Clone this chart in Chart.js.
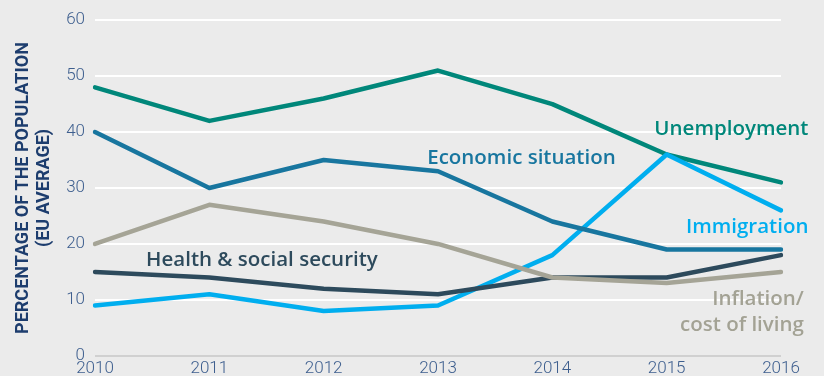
<!DOCTYPE html>
<html>
<head>
<meta charset="utf-8">
<script src="https://cdn.jsdelivr.net/npm/chart.js@4.4.0/dist/chart.umd.min.js"></script>
<style>
  html, body { margin: 0; padding: 0; background: #ebebeb; }
  #wrap { width: 824px; height: 376px; }
</style>
</head>
<body>
<div id="wrap"><canvas id="myChart" width="824" height="376"></canvas></div>
<script>
// Data
const years = ['2010', '2011', '2012', '2013', '2014', '2015', '2016'];
const unemployment = [48, 42, 46, 51, 45, 36, 31];
const economicSituation = [40, 30, 35, 33, 24, 19, 19];
const immigration = [9, 11, 8, 9, 18, 36, 26];
const healthSocial = [15, 14, 12, 11, 14, 14, 18];
const inflation = [20, 27, 24, 20, 14, 13, 15];
const yTicks = [0, 10, 20, 30, 40, 50, 60];

// Inline series labels: anchor in (category index, value) space
const seriesLabels = [
    { text: ['Unemployment'], x: 6.24, y: 40.5, align: 'right', color: '#00877a' },
    { text: ['Economic situation'], x: 3.73, y: 35.4, align: 'center', color: '#18769f' },
    { text: ['Immigration'], x: 6.24, y: 23, align: 'right', color: '#00aeef' },
    { text: ['Health & social security'], x: 1.46, y: 17.1, align: 'center', color: '#2d4a5c' },
    { text: ['Inflation/', 'cost of living'], x: 6.2, y: 10.2, align: 'right', color: '#a3a294' }
];

// Paint canvas background
const bgPlugin = {
    id: 'bg',
    beforeDraw(chart) {
        const c = chart.ctx;
        c.save();
        c.fillStyle = '#ebebeb';
        c.fillRect(0, 0, chart.width, chart.height);
        c.restore();
    }
};

// Draw the series names inside the plot
const labelPlugin = {
    id: 'seriesLabels',
    afterDatasetsDraw(chart) {
        const c = chart.ctx;
        const xs = chart.scales.x, ys = chart.scales.y;
        const step = xs.getPixelForValue(1) - xs.getPixelForValue(0);
        c.save();
        c.font = '600 20.5px "Open Sans"';
        c.textBaseline = 'middle';
        seriesLabels.forEach(l => {
            const px = xs.getPixelForValue(0) + l.x * step;
            const py = ys.getPixelForValue(l.y);
            c.fillStyle = l.color;
            c.textAlign = l.align;
            l.text.forEach((t, i) => c.fillText(t, px, py + i * 26));
        });
        c.restore();
    }
};

const ctx = document.getElementById('myChart').getContext('2d');
const lineDefaults = { borderWidth: 4.5, pointRadius: 0, tension: 0, borderCapStyle: 'round', borderJoinStyle: 'round', fill: false };
const tickFont = { family: 'Roboto', size: 17, weight: '300' };
const chart = new Chart(ctx, {
    type: 'line',
    data: {
        labels: years,
        datasets: [
            { label: 'Inflation/cost of living', data: inflation, borderColor: '#a5a496', ...lineDefaults },
            { label: 'Health & social security', data: healthSocial, borderColor: '#2d4a5c', ...lineDefaults },
            { label: 'Economic situation', data: economicSituation, borderColor: '#18769f', ...lineDefaults },
            { label: 'Immigration', data: immigration, borderColor: '#00aeef', ...lineDefaults },
            { label: 'Unemployment', data: unemployment, borderColor: '#00877a', ...lineDefaults }
        ]
    },
    options: {
        responsive: false,
        animation: false,
        layout: { padding: { top: 20, right: 43, left: 0, bottom: 0 } },
        plugins: { legend: { display: false }, tooltip: { enabled: false } },
        scales: {
            x: {
                offset: false,
                grid: { display: false, drawTicks: false },
                border: { display: false },
                ticks: { color: '#3d5e8e', font: tickFont, padding: 3, maxRotation: 0, autoSkip: false },
                afterFit(axis) { axis.height = 20; }
            },
            y: {
                min: 0,
                max: 60,
                afterBuildTicks(axis) { axis.ticks = yTicks.map(v => ({ value: v })); },
                grid: {
                    drawTicks: false,
                    lineWidth: 2,
                    color: c => c.tick && c.tick.value === 0 ? '#d0d0d0' : '#ffffff'
                },
                border: { display: false },
                ticks: { color: '#3d5e8e', font: tickFont, padding: 10 },
                title: {
                    display: true,
                    text: ['PERCENTAGE OF THE POPULATION', '(EU AVERAGE)'],
                    color: '#1d3d6e',
                    font: { family: 'Roboto', size: 18, weight: 'bold', lineHeight: 1.15 },
                    padding: { top: 13, bottom: 0 }
                },
                afterFit(axis) { axis.width = 95; }
            }
        }
    },
    plugins: [bgPlugin, labelPlugin]
});
</script>
</body>
</html>
